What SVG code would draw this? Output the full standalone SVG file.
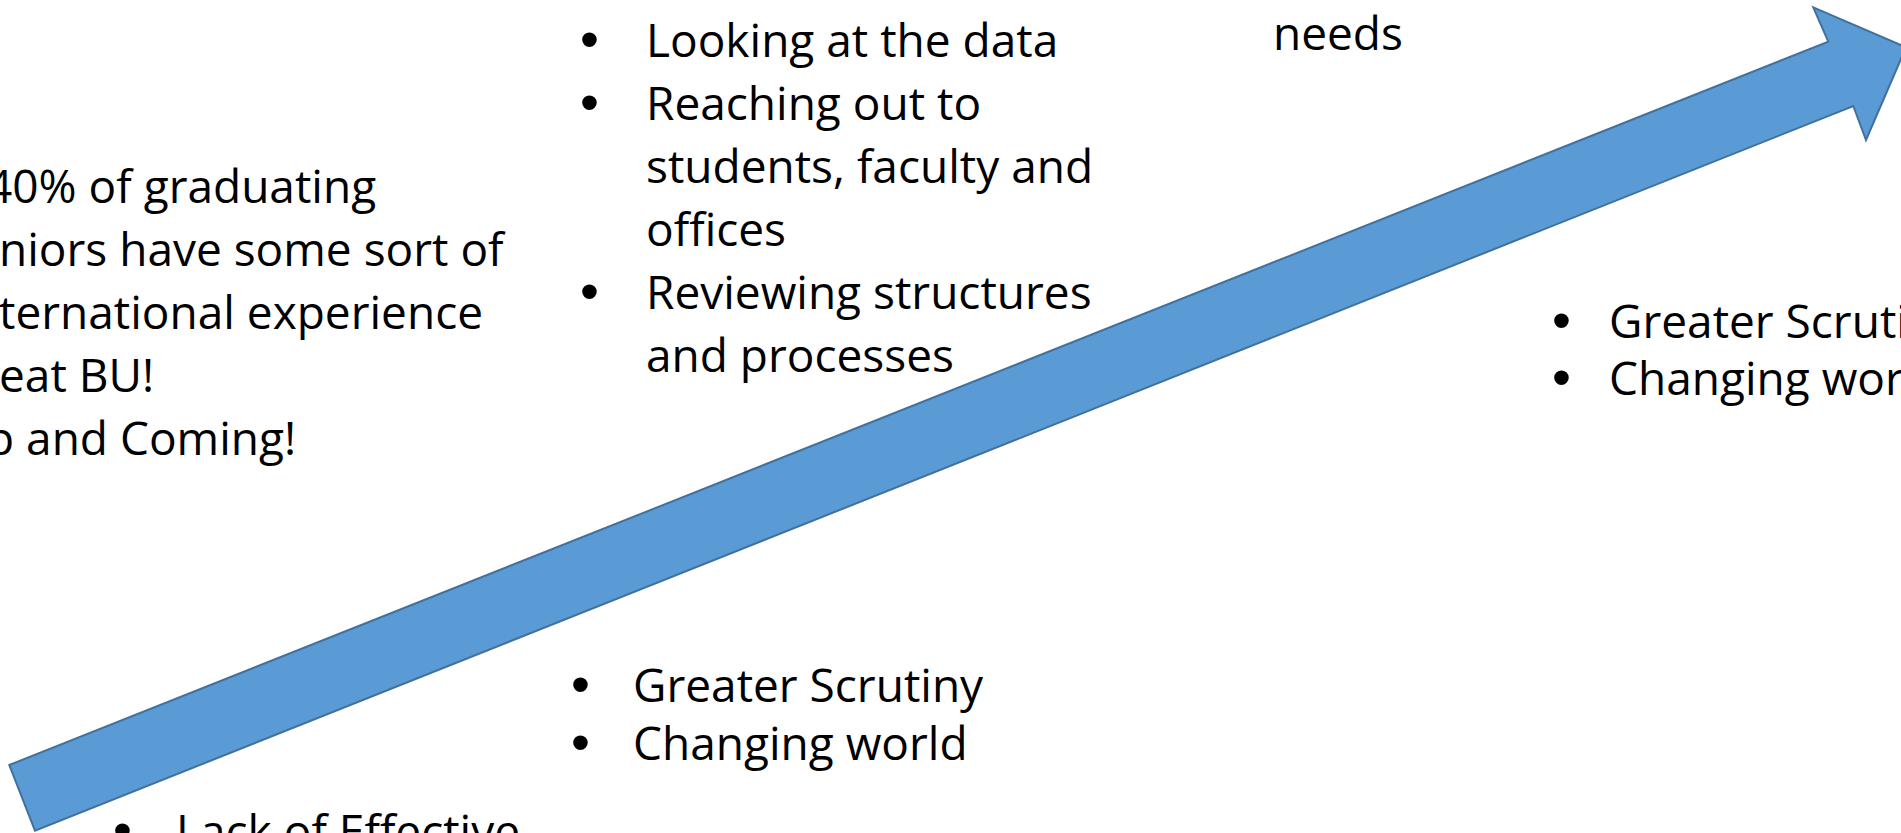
<svg xmlns="http://www.w3.org/2000/svg" width="1901" height="833" viewBox="0 0 1901 833">
<style>
.t{font-family:"Open Sans","Liberation Sans",sans-serif;font-size:46px;fill:#000}
.b{font-family:"Liberation Sans",Arial,sans-serif;font-size:54px;fill:#000}
.arrow{fill:#5B9BD5;stroke:#41719C;stroke-width:2;stroke-linejoin:miter}
</style>
<rect width="1901" height="833" fill="#fff"/>
<g id="connectors">
<polygon id="arrow" class="arrow" points="9.3,765 1828.3,41.7 1813.3,7.3 1906,47.3 1866,140 1853.3,106 35,830.7"/>
</g>
<g id="left-text">
<text class="t" x="-14" y="203">40% of graduating</text>
<text class="t" x="-1" y="266">niors have some sort of</text>
<text class="t" x="-1" y="329">ternational experience</text>
<text class="t" x="-1" y="392">eat BU!</text>
<text class="t" x="-14" y="455">p and Coming!</text>
</g>
<g id="actions">
<text class="b" x="580" y="58">•</text>
<text class="t" x="646" y="57">Looking at the data</text>
<text class="b" x="580" y="121">•</text>
<text class="t" x="646" y="120">Reaching out to</text>
<text class="t" x="646" y="183">students, faculty and</text>
<text class="t" x="646" y="246">offices</text>
<text class="b" x="580" y="310">•</text>
<text class="t" x="646" y="309">Reviewing structures</text>
<text class="t" x="646" y="372">and processes</text>
</g>
<g id="needs">
<text class="t" x="1273" y="50">needs</text>
</g>
<g id="right-drivers">
<text class="b" x="1552" y="339">•</text>
<text class="t" x="1609" y="338">Greater Scrutiny</text>
<text class="b" x="1552" y="396">•</text>
<text class="t" x="1609" y="395">Changing world</text>
</g>
<g id="mid-drivers">
<text class="b" x="571" y="703">•</text>
<text class="t" x="633" y="702">Greater Scrutiny</text>
<text class="b" x="571" y="761">•</text>
<text class="t" x="633" y="760">Changing world</text>
</g>
<g id="lack">
<text class="b" x="113" y="849">•</text>
<text class="t" x="176" y="848">Lack of Effective</text>
</g>
</svg>
